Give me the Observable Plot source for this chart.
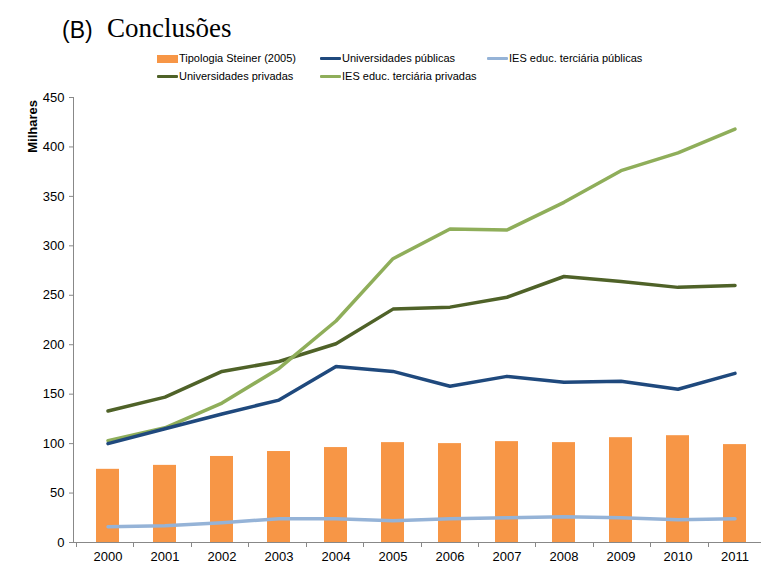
<!DOCTYPE html>
<html><head><meta charset="utf-8">
<script src="https://cdn.jsdelivr.net/npm/d3@7"></script>
<script src="https://cdn.jsdelivr.net/npm/@observablehq/plot@0.6"></script>
<style>
body{margin:0;background:#fff;overflow:hidden;width:761px;height:563px;position:relative}
#chart{position:absolute;left:0;top:0}
#head{position:absolute;left:0;top:0;height:88px;width:761px;font-family:"Liberation Sans",Arial,sans-serif;z-index:2}
#head span{position:absolute;white-space:nowrap}
.lg{font-size:11px;color:#000;line-height:13px}
.sw{position:absolute}
</style></head>
<body>
<div id="chart"></div>
<div id="head"></div>
<script>
const years = ["2000","2001","2002","2003","2004","2005","2006","2007","2008","2009","2010","2011"];
const steiner = [74,78,87,92,96,101,100,102,101,106,108,99];
const univPublicas = [100,115,130,144,178,173,158,168,162,163,155,171];
const univPrivadas = [133,147,173,183,201,236,238,248,269,264,258,260];
const iesPublicas = [16,17,20,24,24,22,24,25,26,25,23,24];
const iesPrivadas = [103,116,141,176,224,287,317,316,344,376,394,418];
const yTicks = [0,50,100,150,200,250,300,350,400,450];
const seriesNames = ["Tipologia Steiner (2005)","Universidades públicas","IES educ. terciária públicas","Universidades privadas","IES educ. terciária privadas"];
const colors = ["#F79646","#1F497D","#95B3D7","#4F6228","#8FAE5A"];

const toRows = vals => years.map((y,i)=>({year:y,value:vals[i]}));

// header
const head = document.getElementById("head");
head.innerHTML = `
<span style="left:62px;top:17px;font-size:23px;font-family:'Liberation Sans',Arial">(B)</span>
<span style="left:107px;top:13px;font-size:27px;font-family:'Liberation Serif','Times New Roman',serif">Conclusões</span>`;
const legendPos = [[157,52],[320,52],[487,52],[157,70],[320,70]];
seriesNames.forEach((n,i)=>{
  const [lx,ly] = legendPos[i];
  const sw = document.createElement("div");
  sw.className="sw";
  if(i===0){ sw.style.cssText=`left:${lx}px;top:${ly+3}px;width:21px;height:8px;background:${colors[i]}`; }
  else { sw.style.cssText=`left:${lx}px;top:${ly+5}px;width:21px;height:3px;background:${colors[i]};border-radius:1px`; }
  head.appendChild(sw);
  const t = document.createElement("span");
  t.className="lg"; t.textContent=n;
  t.style.left=(lx+22)+"px"; t.style.top=ly+"px";
  head.appendChild(t);
});

function decor(...args){
  const dims = args.find(a=>a && typeof a==="object" && a.marginLeft!==undefined);
  const g = d3.create("svg:g");
  const left = dims.marginLeft, bottom = dims.height - dims.marginBottom, right = dims.width - dims.marginRight;
  g.append("line").attr("x1",left+0.5).attr("x2",left+0.5).attr("y1",dims.marginTop).attr("y2",bottom).attr("stroke","#888");
  g.append("line").attr("x1",left).attr("x2",right).attr("y1",bottom+0.5).attr("y2",bottom+0.5).attr("stroke","#888");
  const step = (right-left)/12.1;
  for(let i=0;i<=12;i++){
    const xx = Math.round(left + step*0.05 + step*i)+0.5;
    g.append("line").attr("x1",xx).attr("x2",xx).attr("y1",bottom).attr("y2",bottom+5).attr("stroke","#888");
  }
  g.append("text").attr("transform",`translate(37,${dims.marginTop+3}) rotate(-90)`)
    .attr("text-anchor","end").attr("font-weight","bold").attr("font-size",13).attr("fill","#000").text("Milhares");
  return g.node();
}

const line = (vals,c)=>Plot.lineY(toRows(vals),{x:"year",y:"value",stroke:c,strokeWidth:3.5,strokeLinejoin:"round",strokeLinecap:"round"});

const chart = Plot.plot({
  width:768, height:563,
  marginTop:97, marginBottom:21, marginLeft:73, marginRight:0,
  style:{fontFamily:"'Liberation Sans',Arial,sans-serif",fontSize:"13px",color:"#000",background:"transparent",overflow:"visible",maxWidth:"none"},
  x:{type:"band",domain:years,paddingInner:0.6,paddingOuter:0.35,axis:null},
  y:{domain:[0,450],axis:null},
  marks:[
    Plot.barY(toRows(steiner),{x:"year",y:"value",fill:colors[0]}),
    line(univPrivadas,colors[3]),
    line(iesPrivadas,colors[4]),
    line(univPublicas,colors[1]),
    line(iesPublicas,colors[2]),
    Plot.axisY({ticks:yTicks,tickSize:4,tickPadding:5,label:null,stroke:"#888",fill:"#000",fontSize:13}),
    Plot.axisX({tickSize:0,tickPadding:9,label:null,fill:"#000",fontSize:13}),
    decor
  ]
});
document.getElementById("chart").appendChild(chart);
</script>
</body></html>
